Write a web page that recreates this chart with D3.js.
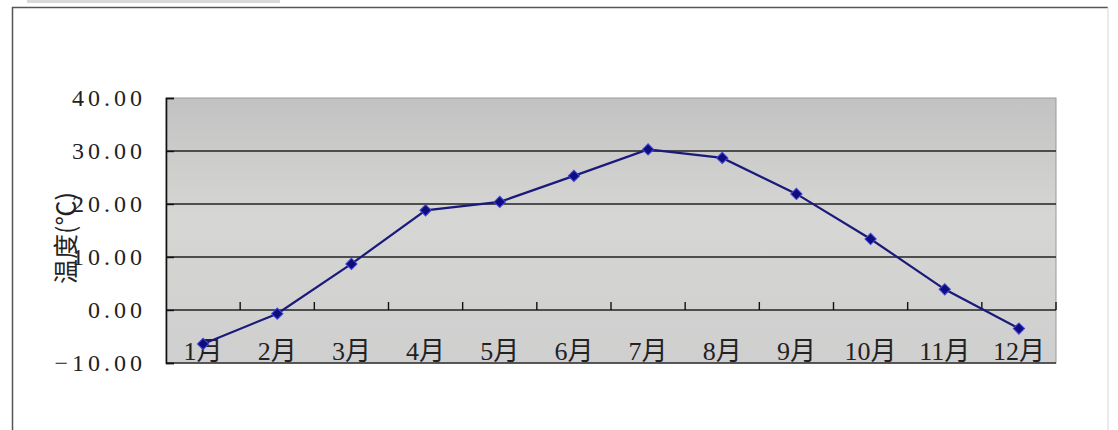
<!DOCTYPE html>
<html>
<head>
<meta charset="utf-8">
<script src="https://cdn.jsdelivr.net/npm/d3@7"></script>
<style>
  body { margin: 0; background: #fff; }
  svg text { font-family: "Liberation Serif", "DejaVu Serif", serif; fill: #222; }
</style>
</head>
<body>
<svg id="svg"></svg>
<script>
// monthly temperature data
const months = ["1月", "2月", "3月", "4月", "5月", "6月", "7月", "8月", "9月", "10月", "11月", "12月"];
const temps = [-6.4, -0.7, 8.7, 18.8, 20.4, 25.3, 30.3, 28.7, 21.9, 13.4, 3.9, -3.5];
const yTicks = [-10, 0, 10, 20, 30, 40];
const yTitle = "温度(℃)";

const w = 1118, h = 430;
const svg = d3.select("#svg").attr("width", w).attr("height", h);

// plot area box
const pLeft = 166, pRight = 1056, pTop = 98, pBottom = 363;

// faint tab at the top
svg.append("rect").attr("x", 27).attr("y", 0).attr("width", 253).attr("height", 3).attr("fill", "#d8d8d8");

// chart border: dark left/top, faint right
svg.append("path")
  .attr("d", "M12.5,432 V7.5 H1108")
  .attr("fill", "none")
  .attr("stroke", "#555").attr("stroke-width", 1.5);
svg.append("line")
  .attr("x1", 1108).attr("x2", 1108).attr("y1", 7.5).attr("y2", 432)
  .attr("stroke", "#e4e4e4").attr("stroke-width", 1.5);

const x = d3.scaleBand().domain(months).range([pLeft, pRight]);
const y = d3.scaleLinear().domain([-10, 40]).range([pBottom, pTop]);

// gray background
const defs = svg.append("defs");
const grad = defs.append("linearGradient").attr("id", "bg").attr("x1", 0).attr("y1", 0).attr("x2", 0).attr("y2", 1);
grad.append("stop").attr("offset", "0%").attr("stop-color", "#c2c2c2");
grad.append("stop").attr("offset", "45%").attr("stop-color", "#d6d6d4");
grad.append("stop").attr("offset", "100%").attr("stop-color", "#cfcfcf");

svg.append("rect")
  .attr("x", pLeft).attr("y", pTop)
  .attr("width", pRight - pLeft).attr("height", pBottom - pTop)
  .attr("fill", "url(#bg)")
  .attr("stroke", "#999").attr("stroke-width", 1);

// gridlines
svg.append("g")
  .selectAll("line")
  .data(yTicks.filter(d => d > -10 && d < 40))
  .join("line")
  .attr("x1", pLeft).attr("x2", pRight)
  .attr("y1", d => y(d)).attr("y2", d => y(d))
  .attr("stroke", "#222").attr("stroke-width", 1.6);

// bottom edge
svg.append("line")
  .attr("x1", pLeft).attr("x2", pRight)
  .attr("y1", pBottom).attr("y2", pBottom)
  .attr("stroke", "#333").attr("stroke-width", 1.6);

// y axis
const yAxis = d3.axisLeft(y)
  .tickValues(yTicks)
  .tickSize(-8)
  .tickPadding(20)
  .tickFormat(d3.format(".2f"));

const gy = svg.append("g").attr("transform", `translate(${pLeft},0)`).call(yAxis);
gy.select(".domain").attr("stroke", "#111").attr("stroke-width", 1.6);
gy.selectAll(".tick line").attr("stroke", "#111").attr("stroke-width", 1.4);
gy.selectAll(".tick text")
  .style("font-size", "24px")
  .style("letter-spacing", "4px")
  .attr("fill", "#444");

// x axis ticks on the zero line, pointing up
svg.append("g")
  .selectAll("line")
  .data(d3.range(1, months.length + 1))
  .join("line")
  .attr("x1", i => pLeft + x.step() * i).attr("x2", i => pLeft + x.step() * i)
  .attr("y1", y(0)).attr("y2", y(0) - 8)
  .attr("stroke", "#111").attr("stroke-width", 1.4);

// x labels along bottom
svg.append("g")
  .selectAll("text")
  .data(months)
  .join("text")
  .attr("x", d => x(d) + x.bandwidth() / 2)
  .attr("y", pBottom - 3)
  .attr("text-anchor", "middle")
  .style("font-size", "26px")
  .style("font-family", "'Liberation Serif', 'Noto Sans CJK SC', serif")
  .attr("fill", "#444")
  .text(d => d);

// y title
svg.append("text")
  .attr("transform", "translate(75,238) rotate(-90)")
  .attr("text-anchor", "middle")
  .style("font-size", "25px")
  .style("font-family", "'Noto Sans CJK SC', serif")
  .attr("fill", "#444")
  .text(yTitle);

// line
const line = d3.line()
  .x((d, i) => x(months[i]) + x.bandwidth() / 2)
  .y(d => y(d));

svg.append("path")
  .datum(temps)
  .attr("fill", "none")
  .attr("stroke", "#1a1a7a")
  .attr("stroke-width", 2.2)
  .attr("d", line);

// diamond markers
svg.append("g")
  .selectAll("path.mk")
  .data(temps)
  .join("path")
  .attr("class", "mk")
  .attr("transform", (d, i) => `translate(${x(months[i]) + x.bandwidth() / 2},${y(d)}) rotate(45)`)
  .attr("d", d3.symbol().type(d3.symbolSquare).size(64))
  .attr("fill", "#0d0d80")
  .attr("stroke", "#4545d8")
  .attr("stroke-width", 1);
</script>
</body>
</html>
